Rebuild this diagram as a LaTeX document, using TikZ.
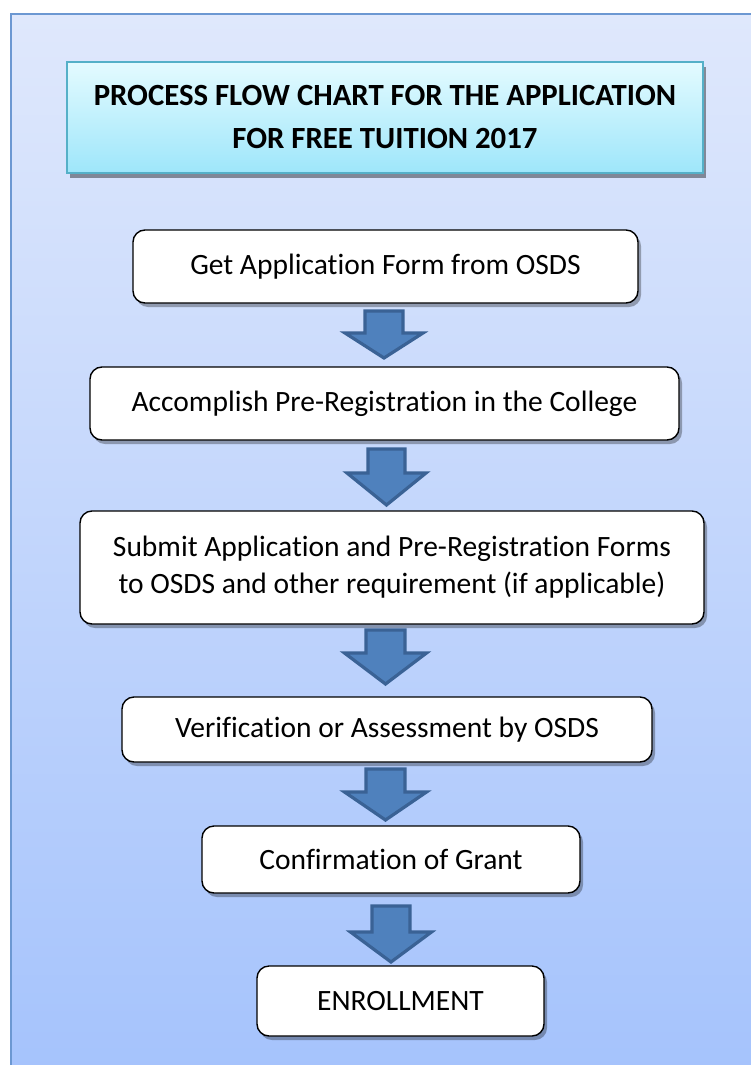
\documentclass[tikz,border=0pt]{standalone}
\usepackage{fontspec}
\setmainfont{Carlito}[Ligatures={NoCommon}]
\usetikzlibrary{shadows}
\definecolor{frameTop}{HTML}{DFE8FC}
\definecolor{frameBot}{HTML}{A5C3FC}
\definecolor{frameLine}{HTML}{6C98D2}
\definecolor{titleTop}{HTML}{E4FBFF}
\definecolor{titleBot}{HTML}{9EE6FA}
\definecolor{titleLine}{HTML}{55B0C8}
\definecolor{arrowFill}{HTML}{4F81BD}
\definecolor{arrowLine}{HTML}{3A6295}
\tikzset{
  stepbox/.style={draw=black, line width=1.4pt, rounded corners=12pt, fill=white,
    align=center, inner sep=0pt, font=\fontsize{29.5}{37}\selectfont,
    drop shadow={shadow xshift=3pt, shadow yshift=-4pt, fill=black, opacity=0.3}},
  titlebox/.style={draw=titleLine, line width=1.4pt, top color=titleTop, bottom color=titleBot,
    align=center, inner sep=0pt, font=\fontsize{30.8}{43}\selectfont\bfseries,
    drop shadow={shadow xshift=3pt, shadow yshift=-5pt, fill=black, opacity=0.4}},
  arrowstyle/.style={fill=arrowFill, draw=arrowLine, line width=3.2pt, line join=miter},
  pics/barrow/.style args={#1/#2/#3/#4}{code={
    \path[arrowstyle] (-#1,0) -- (#1,0) -- (#1,#3) -- (#2,#3) -- (0,#4) -- (-#2,#3) -- (-#1,#3) -- cycle;
  }}
}
\begin{document}
\begin{tikzpicture}[x=1pt,y=-1pt]
\useasboundingbox (0,0) rectangle (751,1065);
\clip (0,0) rectangle (751,1065);
\fill[white] (0,0) rectangle (751,1065);
\path[top color=frameTop, bottom color=frameBot, draw=frameLine, line width=2pt] (11,14) rectangle (800,1075);

\node[titlebox, minimum width=636pt, minimum height=111pt] (title) at (385,117.5)
  {PROCESS FLOW CHART FOR THE APPLICATION\\FOR FREE TUITION 2017};

\node[stepbox, minimum width=505pt, minimum height=73pt] (b1) at (385.5,266.5) {Get Application Form from OSDS};
\node[stepbox, minimum width=589pt, minimum height=73pt] (b2) at (384.5,403.5) {Accomplish Pre-Registration in the College};
\node[stepbox, minimum width=624pt, minimum height=113pt] (b3) at (392,567.5) {Submit Application and Pre-Registration Forms\\to OSDS and other requirement (if applicable)};
\node[stepbox, minimum width=530pt, minimum height=65pt] (b4) at (387,729.5) {Verification or Assessment by OSDS};
\node[stepbox, minimum width=378pt, minimum height=67pt] (b5) at (391,859.5) {Confirmation of Grant};
\node[stepbox, minimum width=287pt, minimum height=70pt] (b6) at (400.5,1001) {ENROLLMENT};

\pic (a1) at (384,311) {barrow={19/39/22/47}};
\pic (a2) at (386.5,449) {barrow={18.5/39.5/24/56}};
\pic (a3) at (385.5,630) {barrow={19.5/41/23/54}};
\pic (a4) at (385.5,769) {barrow={19.5/41/23/51}};
\pic (a5) at (391,906) {barrow={19/40.5/26/56}};
\end{tikzpicture}
\end{document}
